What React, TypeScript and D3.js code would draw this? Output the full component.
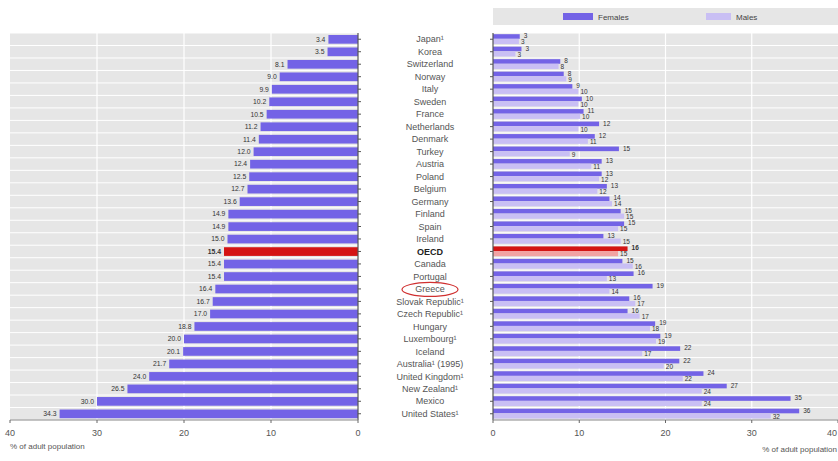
import React from "react";
import * as d3 from "d3";

const countries = ["Japan¹", "Korea", "Switzerland", "Norway", "Italy", "Sweden", "France", "Netherlands", "Denmark", "Turkey", "Austria", "Poland", "Belgium", "Germany", "Finland", "Spain", "Ireland", "OECD", "Canada", "Portugal", "Greece", "Slovak Republic¹", "Czech Republic¹", "Hungary", "Luxembourg¹", "Iceland", "Australia¹ (1995)", "United Kingdom¹", "New Zealand¹", "Mexico", "United States¹"];
const totalValues = [3.4, 3.5, 8.1, 9.0, 9.9, 10.2, 10.5, 11.2, 11.4, 12.0, 12.4, 12.5, 12.7, 13.6, 14.9, 14.9, 15.0, 15.4, 15.4, 15.4, 16.4, 16.7, 17.0, 18.8, 20.0, 20.1, 21.7, 24.0, 26.5, 30.0, 34.3];
const femaleValues = [3.1, 3.3, 7.8, 8.2, 9.2, 10.3, 10.5, 12.3, 11.8, 14.6, 12.6, 12.6, 13.2, 13.5, 14.8, 15.2, 12.8, 15.6, 15.0, 16.3, 18.5, 15.8, 15.6, 18.8, 19.4, 21.7, 21.6, 24.4, 27.1, 34.5, 35.5];
const maleValues = [3.0, 2.6, 7.6, 8.5, 9.9, 9.9, 10.1, 9.9, 11.0, 8.9, 11.4, 12.3, 12.1, 13.8, 15.2, 14.5, 14.8, 14.5, 16.2, 13.2, 13.5, 16.5, 17.0, 18.2, 18.9, 17.3, 19.8, 22.0, 24.2, 24.2, 32.2];
const axisTicks = [0, 10, 20, 30, 40];
const highlight = "OECD";
const circled = "Greece";

const PURPLE = "#7363e6";
const LIGHT = "#c9bff4";
const RED = "#d41414";
const PINK = "#f2a3a3";
const BG = "#e6e6e6";
const FONT = "'Liberation Sans', Arial, sans-serif";

export default function App() {
  const W = 838, H = 461;
  const top = 33, bottom = 420;
  const y = d3.scaleBand<string>().domain(countries).range([top, bottom]).paddingInner(0);
  const bw = y.bandwidth();
  const xl = d3.scaleLinear().domain([0, 40]).range([358, 10]);
  const xr = d3.scaleLinear().domain([0, 40]).range([493, 838]);
  const fmt1 = d3.format(".1f");
  const fmt0 = d3.format(".0f");
  const cx = 430;

  return (
    <svg width={W} height={H} style={{ position: "absolute", left: 0, top: 0, background: "#fff" }} fontFamily={FONT}>
      {/* Legend */}
      <rect x={xr(0)} y={8} width={xr(40) - xr(0)} height={17} fill={BG} />
      <rect x={563} y={13} width={30} height={7} fill={PURPLE} />
      <text x={598} y={19.5} fontSize={8} fill="#444">Females</text>
      <rect x={706} y={13} width={25} height={7} fill={LIGHT} />
      <text x={736} y={19.5} fontSize={8} fill="#444">Males</text>

      {/* Left panel background rows */}
      {countries.map((c) => (
        <rect key={"lb" + c} x={xl(40)} y={(y(c) as number) + 0.5} width={xl(0) - xl(40)} height={bw - 1} fill={BG} />
      ))}
      {axisTicks.slice(1, 4).map((t) => (
        <line key={"lg" + t} x1={xl(t)} x2={xl(t)} y1={top} y2={bottom} stroke="#fff" strokeWidth={1.2} />
      ))}
      {/* Left bars */}
      {countries.map((c, i) => {
        const yy = y(c) as number;
        const hl = c === highlight;
        return (
          <g key={"l" + c}>
            <rect x={xl(totalValues[i])} y={yy + 2} width={xl(0) - xl(totalValues[i])} height={bw - 3.8} fill={hl ? RED : PURPLE} />
            <text x={xl(totalValues[i]) - 3} y={yy + bw / 2 + 2.4} fontSize={6.8} textAnchor="end" fill="#333" fontWeight={hl ? "bold" : "normal"}>
              {fmt1(totalValues[i])}
            </text>
          </g>
        );
      })}
      {/* Left axis */}
      <line x1={xl(0)} x2={xl(0)} y1={top} y2={bottom} stroke="#555" strokeWidth={1.2} />
      <line x1={xl(40)} x2={xl(0)} y1={bottom} y2={bottom} stroke="#888" strokeWidth={1} />
      {countries.map((c) => (
        <line key={"lt" + c} x1={xl(0)} x2={xl(0) + 3} y1={(y(c) as number) + bw / 2} y2={(y(c) as number) + bw / 2} stroke="#555" />
      ))}
      {axisTicks.map((t) => (
        <g key={"lat" + t}>
          <line x1={xl(t)} x2={xl(t)} y1={bottom} y2={bottom + 3} stroke="#666" />
          <text x={xl(t)} y={436} fontSize={9} textAnchor="middle" fill="#555">{t}</text>
        </g>
      ))}
      <text x={10} y={449} fontSize={8} fill="#555">% of adult population</text>

      {/* Center labels */}
      {countries.map((c) => (
        <text key={"c" + c} x={cx} y={(y(c) as number) + bw / 2 + 3.2} fontSize={9} textAnchor="middle" fill={c === highlight ? "#222" : "#555"} fontWeight={c === highlight ? "bold" : "normal"}>
          {c}
        </text>
      ))}
      <ellipse cx={cx} cy={(y(circled) as number) + bw / 2 + 0.5} rx={28} ry={7} fill="none" stroke="#d03030" strokeWidth={1.2} />

      {/* Right panel background */}
      {countries.map((c) => (
        <rect key={"rb" + c} x={xr(0)} y={(y(c) as number) + 0.5} width={xr(40) - xr(0)} height={bw - 1} fill={BG} />
      ))}
      {axisTicks.slice(1, 4).map((t) => (
        <line key={"rg" + t} x1={xr(t)} x2={xr(t)} y1={top} y2={bottom} stroke="#fff" strokeWidth={1.2} />
      ))}
      {countries.map((c, i) => {
        const yy = y(c) as number;
        const hl = c === highlight;
        return (
          <g key={"r" + c}>
            <rect x={xr(0)} y={yy + 1.2} width={xr(femaleValues[i]) - xr(0)} height={4.6} fill={hl ? RED : PURPLE} />
            <rect x={xr(0)} y={yy + 5.8} width={xr(maleValues[i]) - xr(0)} height={5.2} fill={hl ? PINK : LIGHT} />
            <text x={xr(femaleValues[i]) + 4} y={yy + 5.2} fontSize={6.5} fill="#333" fontWeight={hl ? "bold" : "normal"}>
              {fmt0(femaleValues[i])}
            </text>
            <text x={xr(maleValues[i]) + 2} y={yy + 11.2} fontSize={6.5} fill="#333">
              {fmt0(maleValues[i])}
            </text>
          </g>
        );
      })}
      <line x1={xr(0)} x2={xr(0)} y1={top} y2={bottom} stroke="#555" strokeWidth={1.2} />
      <line x1={xr(0)} x2={xr(40)} y1={bottom} y2={bottom} stroke="#888" strokeWidth={1} />
      {countries.map((c) => (
        <line key={"rt" + c} x1={xr(0) - 3} x2={xr(0)} y1={(y(c) as number) + bw / 2} y2={(y(c) as number) + bw / 2} stroke="#555" />
      ))}
      {axisTicks.map((t) => (
        <g key={"rat" + t}>
          <line x1={xr(t)} x2={xr(t)} y1={bottom} y2={bottom + 3} stroke="#666" />
          <text x={t === 40 ? xr(t) - 1 : xr(t)} y={436} fontSize={9} textAnchor={t === 40 ? "end" : "middle"} fill="#555">{t}</text>
        </g>
      ))}
      <text x={837} y={452} fontSize={8} textAnchor="end" fill="#555">% of adult population</text>
    </svg>
  );
}
